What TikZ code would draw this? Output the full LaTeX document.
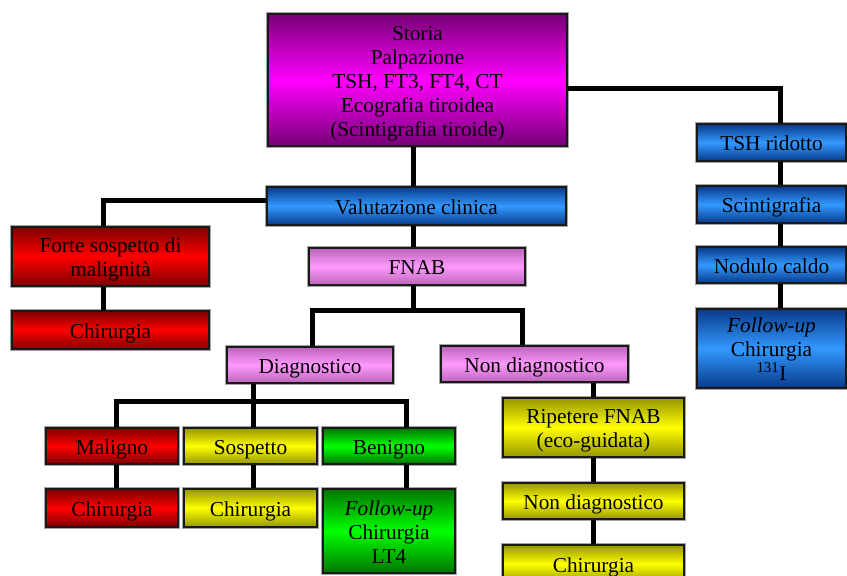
\documentclass[tikz,border=0pt]{standalone}
\usepackage{fontspec}
\setmainfont{Liberation Serif}
\usepackage{tikz}
\usetikzlibrary{positioning,calc}
\definecolor{purpledark}{RGB}{118,0,118}
\definecolor{purplelight}{RGB}{255,0,255}
\definecolor{bluedark}{RGB}{8,58,138}
\definecolor{bluelight}{RGB}{51,153,255}
\definecolor{pinkdark}{RGB}{186,100,186}
\definecolor{pinklight}{RGB}{255,153,255}
\definecolor{reddark}{RGB}{125,0,0}
\definecolor{redlight}{RGB}{255,0,0}
\definecolor{yellowdark}{RGB}{150,150,0}
\definecolor{yellowlight}{RGB}{255,255,0}
\definecolor{greendark}{RGB}{0,118,0}
\definecolor{greenlight}{RGB}{0,255,0}
\definecolor{edge}{RGB}{25,25,25}
\definecolor{halo}{RGB}{165,165,165}

\begin{document}
\begin{tikzpicture}[x=1pt, y=-1pt,
  font=\fontsize{21.3}{24}\selectfont,
  box/.style={draw=edge, line width=1.3pt, preaction={draw=halo, line width=3.4pt}, align=center, inner sep=0pt, text height=18pt, text depth=2pt},
  lines/.style={text height=#1*24pt-6pt},
  purplebox/.style={box, top color=purpledark, bottom color=purpledark, middle color=purplelight},
  bluebox/.style={box, top color=bluedark, bottom color=bluedark, middle color=bluelight},
  pinkbox/.style={box, top color=pinkdark, bottom color=pinkdark, middle color=pinklight},
  redbox/.style={box, top color=reddark, bottom color=reddark, middle color=redlight},
  yellowbox/.style={box, top color=yellowdark, bottom color=yellowdark, middle color=yellowlight},
  greenbox/.style={box, top color=greendark, bottom color=greendark, middle color=greenlight},
  link/.style={line width=5pt, draw=black}]
  \useasboundingbox (0,0) rectangle (847,576);
  \clip (0,0) rectangle (847,576);
  % columns of the connectors
  \coordinate (trunk) at (413,0);
  \coordinate (rc) at (780,0);
  \coordinate (lc) at (103,0);
  \coordinate (dl) at (312,0);
  \coordinate (dr) at (522,0);
  \coordinate (c1) at (116,0);
  \coordinate (c3) at (406,0);
  \coordinate (split1) at (413,310);
  \coordinate (split2) at (253,401);
  % nodes
  \node[purplebox, lines=5, minimum width=299, minimum height=132] (top) at (417.5,80) {Storia\\Palpazione\\TSH, FT3, FT4, CT\\Ecografia tiroidea\\(Scintigrafia tiroide)};
  \node[bluebox, minimum width=149, minimum height=37] (tsh) at (771.5,142.5) {TSH ridotto};
  \node[bluebox, minimum width=149, minimum height=37] (scint) at (771.5,204.5) {Scintigrafia};
  \node[bluebox, minimum width=149, minimum height=36] (caldo) at (771.5,265) {Nodulo caldo};
  \node[bluebox, lines=3, minimum width=149, minimum height=79] (fup) at (771.5,348.5) {\textit{Follow-up}\\Chirurgia\\\textsuperscript{131}I};
  \node[bluebox, minimum width=299, minimum height=38] (val) at (416.5,206) {Valutazione clinica};
  \node[redbox, lines=2, minimum width=197, minimum height=59] (forte) at (110.5,256.5) {Forte sospetto di\\malignità};
  \node[redbox, minimum width=197, minimum height=38] (chir1) at (110.5,330) {Chirurgia};
  \node[pinkbox, minimum width=216, minimum height=37] (fnab) at (417,266.5) {FNAB};
  \node[pinkbox, minimum width=166, minimum height=36] (diag) at (310,365) {Diagnostico};
  \node[pinkbox, minimum width=187, minimum height=36] (nondiag) at (534.5,364) {Non diagnostico};
  \node[redbox, minimum width=132, minimum height=36] (mal) at (112,446) {Maligno};
  \node[yellowbox, minimum width=133, minimum height=36] (sos) at (250.5,446) {Sospetto};
  \node[greenbox, minimum width=132, minimum height=36] (ben) at (389,446) {Benigno};
  \node[redbox, minimum width=132, minimum height=38] (chmal) at (112,508) {Chirurgia};
  \node[yellowbox, minimum width=133, minimum height=38] (chsos) at (250.5,508) {Chirurgia};
  \node[greenbox, lines=3, minimum width=132, minimum height=84] (fupben) at (389,531) {\textit{Follow-up}\\Chirurgia\\LT4};
  \node[yellowbox, lines=2, minimum width=181, minimum height=59] (rip) at (593.5,427.5) {Ripetere FNAB\\(eco-guidata)};
  \node[yellowbox, minimum width=181, minimum height=36] (nd2) at (593.5,501) {Non diagnostico};
  \node[yellowbox, minimum width=181, minimum height=38] (chnd) at (593.5,564) {Chirurgia};
  % connectors
  \draw[link] ([yshift=-8pt]top.east) -| (tsh.north -| rc);
  \draw[link] (tsh.south -| rc) -- (scint.north -| rc);
  \draw[link] (scint.south -| rc) -- (caldo.north -| rc);
  \draw[link] (caldo.south -| rc) -- (fup.north -| rc);
  \draw[link] (top.south -| trunk) -- (val.north -| trunk);
  \draw[link] ([yshift=6pt]val.west) -| (forte.north -| lc);
  \draw[link] (forte.south -| lc) -- (chir1.north -| lc);
  \draw[link] (val.south -| trunk) -- (fnab.north -| trunk);
  \draw[link] (fnab.south -| trunk) -- (split1);
  \draw[link] (diag.north -| dl) |- (split1) -| (nondiag.north -| dr);
  \draw[link] (diag.south -| split2) -- (sos.north -| split2);
  \draw[link] (mal.north -| c1) |- (split2) -| (ben.north -| c3);
  \draw[link] (mal.south -| c1) -- (chmal.north -| c1);
  \draw[link] (sos.south -| split2) -- (chsos.north -| split2);
  \draw[link] (ben.south -| c3) -- (fupben.north -| c3);
  \draw[link] (nondiag.south -| rip.north) -- (rip.north);
  \draw[link] (rip.south) -- (nd2.north);
  \draw[link] (nd2.south) -- (chnd.north);
\end{tikzpicture}
\end{document}
